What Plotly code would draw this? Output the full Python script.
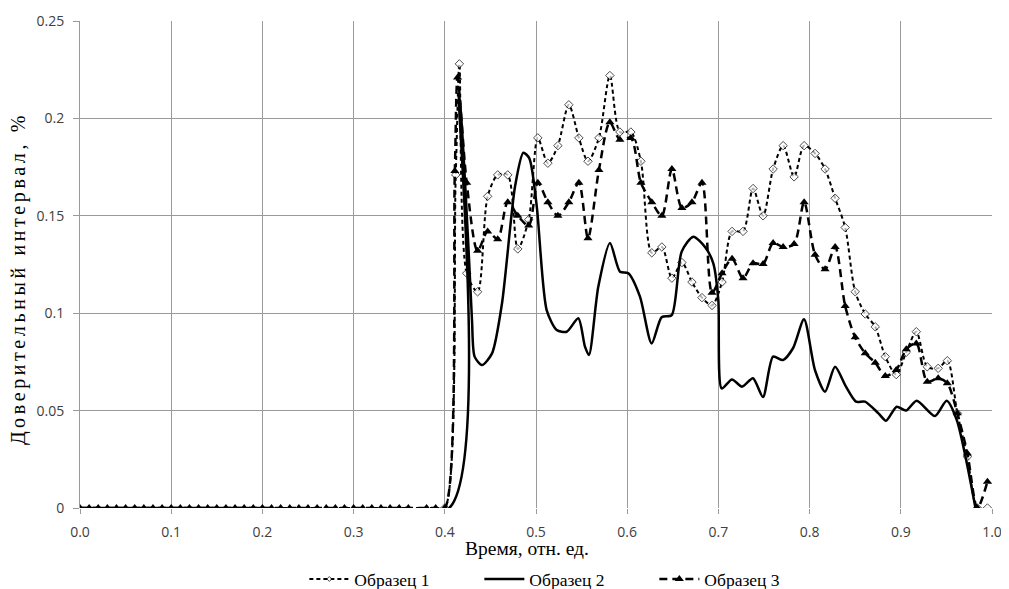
import plotly.graph_objects as go

# zero region (shared by all series)
t_left = [0.00, 0.01, 0.02, 0.03, 0.04, 0.05, 0.06, 0.07, 0.08, 0.09,
          0.10, 0.11, 0.12, 0.13, 0.14, 0.15, 0.16, 0.17, 0.18, 0.19,
          0.20, 0.21, 0.22, 0.23, 0.24, 0.25, 0.26, 0.27, 0.28, 0.29,
          0.30, 0.31, 0.32, 0.33, 0.34, 0.35, 0.36, 0.38, 0.39]
v_left = [0.0] * len(t_left)

t_main = [0.424, 0.436, 0.447, 0.458, 0.469, 0.480, 0.492, 0.502, 0.513, 0.524,
          0.536, 0.547, 0.557, 0.569, 0.581, 0.592, 0.604, 0.615, 0.627, 0.638,
          0.649, 0.660, 0.671, 0.682, 0.693, 0.704, 0.715, 0.727, 0.738, 0.749,
          0.760, 0.771, 0.783, 0.794, 0.806, 0.817, 0.828, 0.839, 0.850, 0.861,
          0.872, 0.883, 0.895, 0.906, 0.917, 0.929, 0.941, 0.951, 0.962, 0.973,
          0.984, 0.995]

s1_start_t = [0.400, 0.412, 0.416]
s1_start_v = [0.0, 0.171, 0.228]
s1_main = [0.1205, 0.111, 0.160, 0.171, 0.171, 0.133, 0.148, 0.190, 0.177, 0.186,
           0.207, 0.190, 0.178, 0.190, 0.222, 0.193, 0.193, 0.178, 0.131, 0.134,
           0.118, 0.126, 0.116, 0.108, 0.104, 0.116, 0.142, 0.142, 0.164, 0.150,
           0.174, 0.186, 0.170, 0.186, 0.182, 0.174, 0.159, 0.144, 0.111, 0.0996,
           0.093, 0.0777, 0.0685, 0.080, 0.0905, 0.0725, 0.0717, 0.0756, 0.0486, 0.0263,
           0.0, 0.0]

s3_start_t = [0.400, 0.411, 0.414]
s3_start_v = [0.0, 0.173, 0.221]
s3_main = [0.167, 0.132, 0.142, 0.138, 0.157, 0.150, 0.145, 0.167, 0.157, 0.150,
           0.157, 0.167, 0.1385, 0.1735, 0.198, 0.189, 0.190, 0.167, 0.157, 0.150,
           0.174, 0.154, 0.157, 0.167, 0.1105, 0.1205, 0.128, 0.118, 0.1256, 0.1253,
           0.136, 0.134, 0.1355, 0.157, 0.130, 0.1225, 0.134, 0.1037, 0.0876, 0.0794,
           0.0746, 0.0678, 0.0708, 0.0815, 0.0845, 0.0648, 0.0666, 0.064, 0.0486, 0.028,
           0.0, 0.0135]

s2_t = [0.0, 0.20, 0.405, 0.4156, 0.4254, 0.4298, 0.4327, 0.4408, 0.4518, 0.4627,
        0.477, 0.4861, 0.4927, 0.5008, 0.5117, 0.5227, 0.5337, 0.5464, 0.5537, 0.5581,
        0.5683, 0.5811, 0.5921, 0.6012, 0.614, 0.6268, 0.6378, 0.6488, 0.6597, 0.6725,
        0.6853, 0.6944, 0.6999, 0.7036, 0.7149, 0.7259, 0.7379, 0.7489, 0.7599, 0.7708,
        0.7818, 0.7939, 0.8059, 0.8169, 0.8279, 0.8399, 0.8509, 0.8607, 0.8755, 0.8838,
        0.8955, 0.9057, 0.9174, 0.9375, 0.9503, 0.9613, 0.9819]
s2_v = [0.0, 0.0, 0.0, 0.212, 0.139, 0.0965, 0.0777, 0.0734, 0.0794, 0.105,
        0.165, 0.1824, 0.1795, 0.155, 0.1016, 0.0914, 0.0905, 0.0974, 0.0828, 0.0785,
        0.1136, 0.136, 0.1213, 0.1205, 0.1085, 0.0845, 0.0979, 0.099, 0.1316, 0.1393,
        0.134, 0.1256, 0.1068, 0.0614, 0.066, 0.0623, 0.0666, 0.057, 0.0777, 0.076,
        0.082, 0.0969, 0.0708, 0.0597, 0.0725, 0.0623, 0.0546, 0.0546, 0.0486, 0.0448,
        0.052, 0.050, 0.0551, 0.0472, 0.0551, 0.0452, 0.0]

x_ticks = [0.0, 0.1, 0.2, 0.3, 0.4, 0.5, 0.6, 0.7, 0.8, 0.9, 1.0]
x_ticktext = ["0.0", "0.1", "0.2", "0.3", "0.4", "0.5", "0.6", "0.7", "0.8", "0.9", "1.0"]
y_ticks = [0, 0.05, 0.1, 0.15, 0.2, 0.25]
y_ticktext = ["0", "0.05", "0.1", "0.15", "0.2", "0.25"]

names = ["Образец 1", "Образец 2", "Образец 3"]
x_title = "Время, отн. ед."
y_title = "Доверительный интервал, %"

s1_x = t_left + s1_start_t + t_main
s1_y = v_left + s1_start_v + s1_main
# diamonds hidden under triangles on the zero segment
s1_sizes = [0] * len(t_left) + [6.5] * (len(s1_start_t) + len(t_main))

fig = go.Figure()
fig.add_trace(go.Scatter(
    x=s1_x, y=s1_y, name=names[0], mode="lines+markers",
    line=dict(color="black", width=2, dash="4px,3px", shape="spline", smoothing=0.8),
    marker=dict(symbol="diamond", size=s1_sizes, color="white", line=dict(color="black", width=1))))
fig.add_trace(go.Scatter(
    x=s2_t, y=s2_v, name=names[1], mode="lines",
    line=dict(color="black", width=2.5, shape="spline", smoothing=0.7)))
fig.add_trace(go.Scatter(
    x=t_left + s3_start_t + t_main, y=v_left + s3_start_v + s3_main,
    name=names[2], mode="lines+markers",
    line=dict(color="black", width=2.5, dash="8px,5px", shape="spline", smoothing=0.8),
    marker=dict(symbol="triangle-up", size=8, color="black")))

grid = "#9a9a9a"
tickfont = dict(family="Open Sans, Liberation Sans, sans-serif", size=14, color="#404040")
serif = "Liberation Serif, serif"
# the page body has an 8px default margin, so the figure is drawn 8px in and 8px down
fig.update_layout(
    width=1001, height=581,
    margin=dict(l=72, r=17, t=13, b=81, autoexpand=False),
    paper_bgcolor="white", plot_bgcolor="white",
    showlegend=True,
    legend=dict(orientation="h", x=0.246, xanchor="left", y=-0.146, yanchor="middle",
                font=dict(family=serif, size=17.5, color="black"),
                itemwidth=40, entrywidth=120, traceorder="normal"),
    xaxis=dict(range=[0, 1.0], tickvals=x_ticks, ticktext=x_ticktext, showgrid=True,
               gridcolor=grid, gridwidth=1, zeroline=False, showline=False, automargin=False,
               ticks="outside", ticklen=5, tickcolor=grid, ticklabelstandoff=6,
               tickfont=tickfont),
    yaxis=dict(range=[0, 0.25], tickvals=y_ticks, ticktext=y_ticktext, showgrid=True,
               gridcolor=grid, gridwidth=1, zeroline=False, showline=True, linecolor=grid,
               automargin=False, ticks="outside", ticklen=6, tickcolor=grid,
               ticklabelstandoff=6, tickfont=tickfont),
    annotations=[
        dict(text=x_title, xref="paper", yref="paper", x=0.4896, y=-0.084,
             xanchor="center", yanchor="middle", showarrow=False,
             font=dict(family=serif, size=19.5, color="black")),
        dict(text='<span style="letter-spacing:3.6px">' + y_title + '</span>',
             xref="paper", yref="paper", x=-0.068, y=0.472,
             xanchor="center", yanchor="middle", showarrow=False, textangle=-90,
             font=dict(family=serif, size=20, color="black")),
    ],
)

fig.write_html("out.html")
